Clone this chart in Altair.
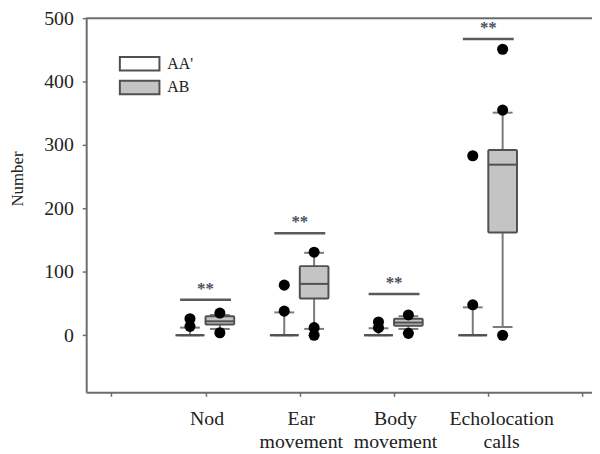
import json
import altair as alt
import pandas as pd

# ---------------- data ----------------
categories = ["Nod", "Ear movement", "Body movement", "Echolocation calls"]
groups = ["AA'", "AB"]

aa_low = [0, 0, 0, 0]
aa_q1 = [0, 0, 0, 0]
aa_median = [0, 0, 0, 0]
aa_q3 = [0, 0, 0, 0]
aa_high = [12, 36, 11, 44]

ab_low = [10, 10, 10, 13]
ab_q1 = [17, 58, 15, 162]
ab_median = [22, 81, 20, 269]
ab_q3 = [30, 109, 26, 292]
ab_high = [32, 130, 30, 351]

aa_outliers = [[14, 26], [38, 79], [12, 21], [48, 283]]
ab_outliers = [[4, 35], [0, 12, 131], [3, 32], [0, 355, 451]]

sig_levels = [56, 161, 65, 467]
sig_labels = ["**", "**", "**", "**"]

y_ticks = [0, 100, 200, 300, 400, 500]
x_ticks = [0, 1, 2, 3, 4, 5]

# ---------------- layout helpers ----------------
group_offset = {"AA'": -0.165, "AB": 0.152}
box_half = 0.152
cap_half = 0.105
sig_half = 0.27

FONT = "Liberation Serif"
AXIS_COLOR = "#6e6e6e"
BOX_STROKE = "#505050"
WHISKER = "#7a7a7a"
TEXT = "#222222"

stats = {
    "AA'": (aa_low, aa_q1, aa_median, aa_q3, aa_high),
    "AB": (ab_low, ab_q1, ab_median, ab_q3, ab_high),
}
box_rows = []
for g in groups:
    lo, q1, md, q3, hi = stats[g]
    for i, c in enumerate(categories):
        pos = i + 1 + group_offset[g]
        box_rows.append(dict(
            category=c, group=g, pos=pos,
            box_lo=pos - box_half, box_hi=pos + box_half,
            cap_lo=pos - cap_half, cap_hi=pos + cap_half,
            low=lo[i], q1=q1[i], median=md[i], q3=q3[i], high=hi[i],
        ))
box_df = pd.DataFrame(box_rows)

out_rows = []
for g, outs in (("AA'", aa_outliers), ("AB", ab_outliers)):
    for i, vals in enumerate(outs):
        for v in vals:
            out_rows.append(dict(category=categories[i], group=g,
                                 pos=i + 1 + group_offset[g], value=v))
out_df = pd.DataFrame(out_rows)

sig_df = pd.DataFrame(dict(
    category=categories,
    center=[i + 1 for i in range(len(categories))],
    lo=[i + 1 - sig_half for i in range(len(categories))],
    hi=[i + 1 + sig_half for i in range(len(categories))],
    level=sig_levels,
    label=sig_labels,
))

top_df = pd.DataFrame(dict(level=[y_ticks[-1]]))

label_expr = " : ".join(
    f"datum.value == {i + 1} ? {json.dumps(c.split(' '))}" for i, c in enumerate(categories)
) + " : ''"

x_scale = alt.Scale(domain=[-0.266, 5.10], nice=False, zero=False)
y_scale = alt.Scale(domain=[-90, 500], nice=False, zero=False)

x_axis = alt.Axis(
    values=x_ticks, labelExpr=label_expr, title=None, grid=False,
    domainColor=AXIS_COLOR, domainWidth=2, tickColor=AXIS_COLOR, tickSize=4,
    tickWidth=1.5, labelFont=FONT, labelFontSize=20, labelColor=TEXT,
    labelPadding=13, labelLineHeight=22.5, labelBaseline="top",
    labelOffset={"condition": {"test": "datum.value == 4", "value": 13}, "value": 1},
    labelOverlap=False, labelFlush=False, labelBound=False,
)
y_axis = alt.Axis(
    values=y_ticks, title="Number", grid=False,
    domainColor=AXIS_COLOR, domainWidth=2, tickColor=AXIS_COLOR, tickSize=4,
    tickWidth=1.5, labelFont=FONT, labelFontSize=20, labelColor=TEXT,
    labelPadding=9, titleFont=FONT, titleFontSize=17, titleFontWeight="normal",
    titleColor=TEXT, titleAngle=270, titleX=-69, titleY=162,
    titleAlign="center", titleBaseline="middle",
)

X = lambda f: alt.X(f"{f}:Q", scale=x_scale, axis=x_axis)
Y = lambda f: alt.Y(f"{f}:Q", scale=y_scale, axis=y_axis)

top_line = alt.Chart(top_df).mark_rule(color=AXIS_COLOR, strokeWidth=2).encode(
    y=Y("level"), x=alt.value(0), x2=alt.value(511),
)

whiskers = alt.Chart(box_df).mark_rule(color=WHISKER, strokeWidth=2).encode(
    x=X("pos"), y=Y("low"), y2="high:Q")
caps_hi = alt.Chart(box_df).mark_rule(color=WHISKER, strokeWidth=2).encode(
    x=X("cap_lo"), x2="cap_hi:Q", y=Y("high"))
caps_lo = alt.Chart(box_df).mark_rule(color=WHISKER, strokeWidth=2).encode(
    x=X("cap_lo"), x2="cap_hi:Q", y=Y("low"))

boxes = alt.Chart(box_df).mark_rect(stroke=BOX_STROKE, strokeWidth=2, cornerRadius=1).encode(
    x=X("box_lo"), x2="box_hi:Q", y=Y("q1"), y2="q3:Q",
    color=alt.Color("group:N",
                    scale=alt.Scale(domain=groups, range=["#ffffff", "#c4c4c4"]),
                    legend=alt.Legend(
                        title=None, orient="none", legendX=33, legendY=35,
                        symbolType="M-1,-0.68H3V0.68H-1Z", symbolSize=400,
                        symbolStrokeColor=BOX_STROKE, symbolStrokeWidth=2,
                        symbolOpacity=1,
                        labelFont=FONT, labelFontSize=16, labelColor=TEXT,
                        labelOffset=27, rowPadding=2, padding=0,
                    )),
)
medians = alt.Chart(box_df).mark_rule(color=BOX_STROKE, strokeWidth=2).encode(
    x=X("box_lo"), x2="box_hi:Q", y=Y("median"))

outliers = alt.Chart(out_df).mark_circle(size=125, color="black", opacity=1).encode(
    x=X("pos"), y=Y("value"))

sig_lines = alt.Chart(sig_df).mark_rule(color="#5a5a5a", strokeWidth=2.5).encode(
    x=X("lo"), x2="hi:Q", y=Y("level"))
sig_text = alt.Chart(sig_df).mark_text(
    font=FONT, fontSize=17, fontWeight="bold", color="#4b5160",
    baseline="alphabetic", dy=-6,
).encode(x=X("center"), y=Y("level"), text="label:N")

chart = alt.layer(
    top_line, whiskers, caps_hi, caps_lo, boxes, medians,
    outliers, sig_lines, sig_text,
).properties(
    width=511, height=378,
    autosize=alt.AutoSizeParams(type="none"),
    padding={"left": 79, "top": 8, "right": 0, "bottom": 57},
).configure_view(stroke=None).configure(background="white").configure_axis(
    labelFont=FONT, titleFont=FONT
)

chart.save("out.html", embed_options={"renderer": "svg", "actions": False})
